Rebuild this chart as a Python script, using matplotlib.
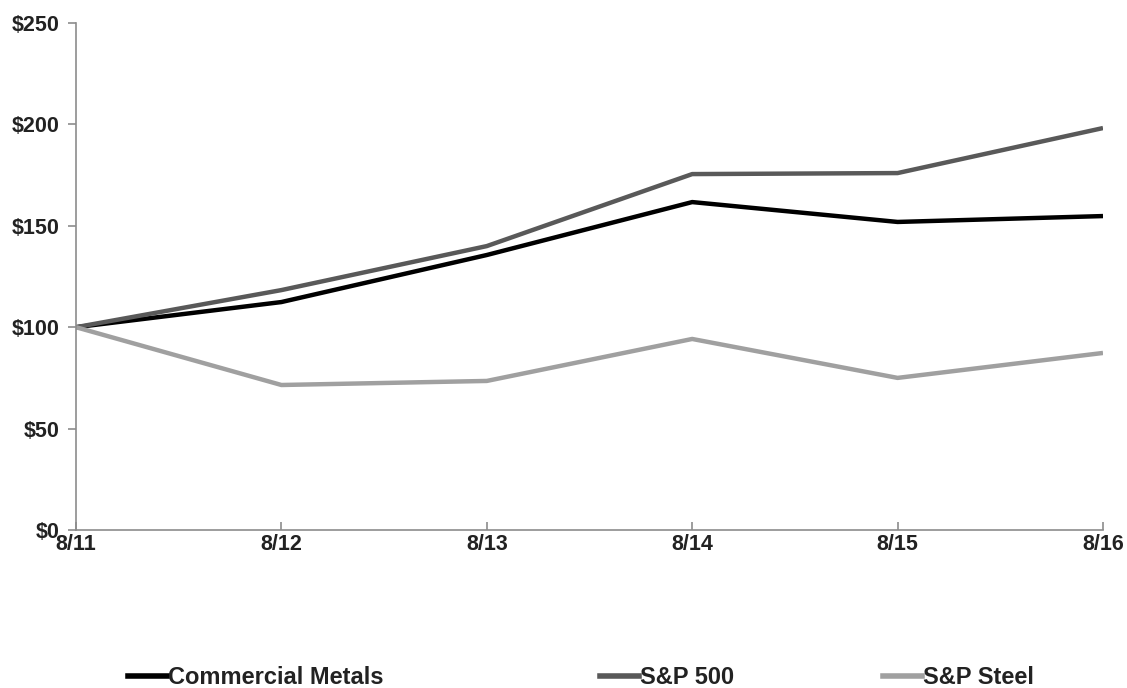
import matplotlib.pyplot as plt
from matplotlib.lines import Line2D

plt.rcParams['font.family'] = ['Liberation Sans', 'DejaVu Sans']
plt.rcParams['font.weight'] = 'bold'

dates = ['8/11', '8/12', '8/13', '8/14', '8/15', '8/16']
commercial_metals = [100, 112.4, 135.6, 161.7, 151.9, 154.8]
sp500 = [100, 118.3, 140.0, 175.5, 176.0, 198.2]
sp_steel = [100, 71.5, 73.5, 94.2, 75.0, 87.3]

names = ['Commercial Metals', 'S&P 500', 'S&P Steel']
colors = ['#000000', '#595959', '#a0a0a0']
series = [commercial_metals, sp500, sp_steel]

fig = plt.figure(figsize=(11.27, 6.88), dpi=100)
ax = fig.add_axes([76 / 1127, 1 - 530 / 688, (1103 - 76) / 1127, (530 - 23) / 688])

x = range(len(dates))
for vals, c in zip(series, colors):
    ax.plot(x, vals, color=c, lw=3.2, solid_capstyle='butt')

ax.set_xlim(0, len(dates) - 1)
ax.set_ylim(0, 250)
ax.set_yticks(range(0, 251, 50))
ax.set_yticklabels(['$' + str(v) for v in range(0, 251, 50)])
ax.set_xticks(list(x))
ax.set_xticklabels(dates)

for s in ['top', 'right']:
    ax.spines[s].set_visible(False)
for s in ['left', 'bottom']:
    ax.spines[s].set_color('#8c8c8c')
    ax.spines[s].set_linewidth(1.2)

ax.tick_params(axis='y', direction='out', length=6, width=1.2, color='#8c8c8c',
               labelsize=15.5, labelcolor='#222222', pad=6)
ax.tick_params(axis='x', direction='in', length=6, width=1.2, color='#8c8c8c',
               labelsize=15.5, labelcolor='#222222', pad=3)
for lab in ax.get_xticklabels() + ax.get_yticklabels():
    lab.set_fontweight('bold')

# legend entries spread across the bottom
starts = [128 / 1127, 600 / 1127, 883 / 1127]
for name, c, xs in zip(names, colors, starts):
    h = Line2D([], [], color=c, lw=4)
    fig.legend([h], [name], loc='center left', bbox_to_anchor=(xs, 1 - 678 / 688),
               frameon=False, handlelength=1.65, handletextpad=0.05, borderpad=0,
               borderaxespad=0, prop={'weight': 'bold', 'size': 17},
               labelcolor='#222222')

fig.savefig('out.png', dpi=100)
